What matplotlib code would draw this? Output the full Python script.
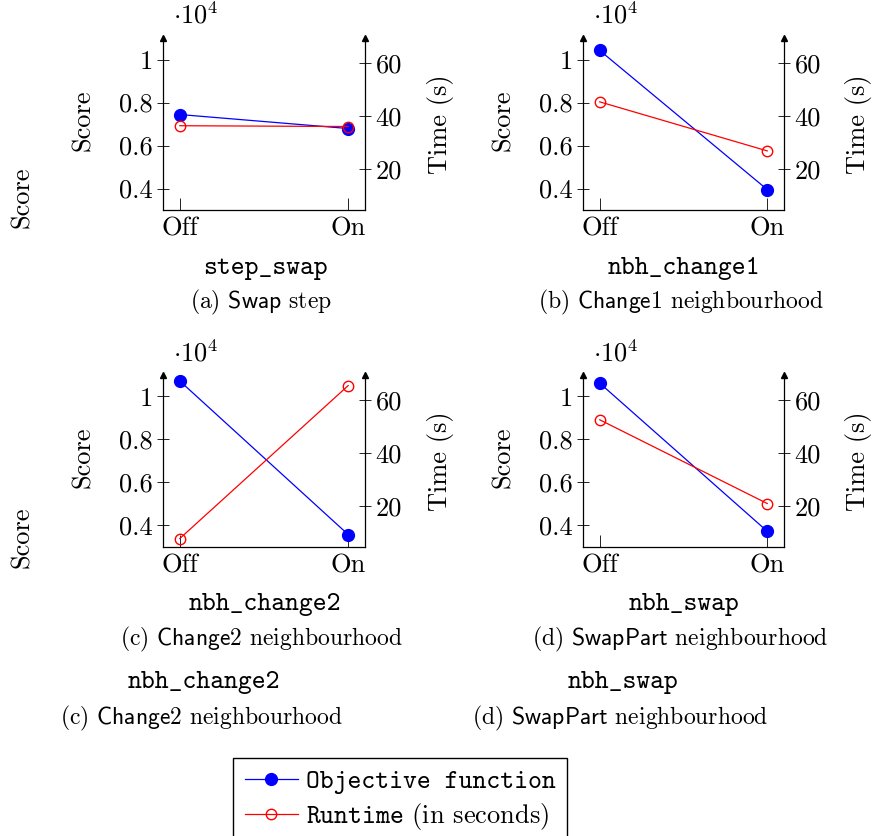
import matplotlib
matplotlib.use("Agg")
import matplotlib.pyplot as plt

plt.rcParams['font.family'] = ['cmr10']
plt.rcParams['mathtext.fontset'] = 'cm'
plt.rcParams['axes.unicode_minus'] = False

# data (score in raw units, time in seconds)
configs = ['Off', 'On']
score_step_swap = [7440, 6790]
time_step_swap = [36.3, 36.0]
score_change1 = [10420, 3950]
time_change1 = [45.3, 26.8]
score_change2 = [10720, 3580]
time_change2 = [7.7, 65.4]
score_swap = [10620, 3730]
time_swap = [52.5, 20.9]

score_ticks = [4000, 6000, 8000, 10000]
score_ticklabels = ['0.4', '0.6', '0.8', '1']
time_ticks = [20, 40, 60]

W, H = 875, 836
fig = plt.figure(figsize=(W / 100, H / 100), dpi=100)

FS = 19
CAP = 17


def fx(x):
    return x / W


def fy(y):
    return 1 - y / H


def panel(left, top, right, bottom, scores, times, xlab, cap):
    ax = fig.add_axes([fx(left), fy(bottom), (right - left) / W, (bottom - top) / H])
    ax2 = ax.twinx()
    x = list(range(len(configs)))
    l1, = ax.plot(x, scores, color='blue', lw=0.9, marker='o', ms=8.5,
                  mfc='blue', mec='blue', zorder=3)
    l2, = ax2.plot(x, times, color='red', lw=0.9, marker='o', ms=7.5,
                   mfc='none', mec='red', mew=1.0, zorder=4)
    ax.set_xlim(-0.1, 1.1)
    ax.set_ylim(3000, 11000)
    ax2.set_ylim(4.5, 69.4)
    ax.set_xticks(x)
    ax.set_xticklabels(configs)
    ax.set_yticks(score_ticks)
    ax.set_yticklabels(score_ticklabels)
    ax2.set_yticks(time_ticks)
    for a in (ax, ax2):
        a.spines['top'].set_visible(False)
        a.patch.set_visible(False)
    ax2.spines['left'].set_visible(False)
    ax2.spines['bottom'].set_visible(False)
    ax.spines['right'].set_visible(False)
    for s in ('left', 'bottom'):
        ax.spines[s].set_linewidth(0.9)
    ax2.spines['right'].set_linewidth(0.9)
    ax.tick_params(axis='y', direction='inout', length=9, width=0.6, labelsize=FS, pad=3)
    ax.tick_params(axis='x', direction='in', length=9, width=0.6, labelsize=FS, pad=5)
    ax2.tick_params(axis='y', direction='inout', length=9, width=0.6, labelsize=FS, pad=3)
    # arrow heads on the vertical axes
    ax.plot([0, 1], [1, 1], ls='none', marker='^', color='black', ms=5,
            transform=ax.transAxes, clip_on=False)
    # labels
    fig.text(fx(left + 10), fy(top - 9), r'$\cdot 10^4$', fontsize=FS, ha='left', va='bottom')
    fig.text(fx(left - 80), fy((top + bottom) / 2 - 4), 'Score', rotation=90,
             fontsize=FS, ha='center', va='center')
    fig.text(fx(right + 75), fy((top + bottom) / 2), 'Time (s)', rotation=90,
             fontsize=FS, ha='center', va='center')
    fig.text(fx((left + right) / 2 + 1), fy(bottom + 58), xlab, family='cmtt10',
             fontsize=FS, ha='center', va='center')
    fig.text(fx((left + right) / 2 - 3), fy(bottom + 92), cap,
             fontsize=CAP, ha='center', va='center')
    return l1, l2


h1, h2 = panel(163, 38, 365, 210, score_step_swap, time_step_swap,
               'step_swap', r'(a) $\mathsf{Swap}$ step')
panel(583, 38, 784, 210, score_change1, time_change1,
      'nbh_change1', r'(b) $\mathsf{Change1}$ neighbourhood')
panel(163, 375, 365, 547, score_change2, time_change2,
      'nbh_change2', r'(c) $\mathsf{Change2}$ neighbourhood')
panel(583, 375, 784, 547, score_swap, time_swap,
      'nbh_swap', r'(d) $\mathsf{SwapPart}$ neighbourhood')

# leftover duplicated labels
fig.text(fx(22), fy(197), 'Score', rotation=90, fontsize=FS, ha='center', va='center')
fig.text(fx(22), fy(537), 'Score', rotation=90, fontsize=FS, ha='center', va='center')
fig.text(fx(204), fy(683), 'nbh_change2', family='cmtt10', fontsize=FS, ha='center', va='center')
fig.text(fx(201), fy(718), r'(c) $\mathsf{Change2}$ neighbourhood', fontsize=CAP,
         ha='center', va='center')
fig.text(fx(623), fy(683), 'nbh_swap', family='cmtt10', fontsize=FS, ha='center', va='center')
fig.text(fx(620), fy(718), r'(d) $\mathsf{SwapPart}$ neighbourhood', fontsize=CAP,
         ha='center', va='center')

leg = fig.legend([h1, h2], ['Objective function', r'$\mathtt{Runtime}$ (in seconds)'],
                 loc='upper left', bbox_to_anchor=(fx(233), fy(758)), fontsize=FS,
                 frameon=True, fancybox=False, edgecolor='black', framealpha=1,
                 handlelength=2.0, handletextpad=0.3, borderpad=0.45, labelspacing=0.25,
                 borderaxespad=0)
leg.get_texts()[0].set_family('cmtt10')
leg.get_frame().set_linewidth(1.0)

fig.savefig('out.png', dpi=100)
